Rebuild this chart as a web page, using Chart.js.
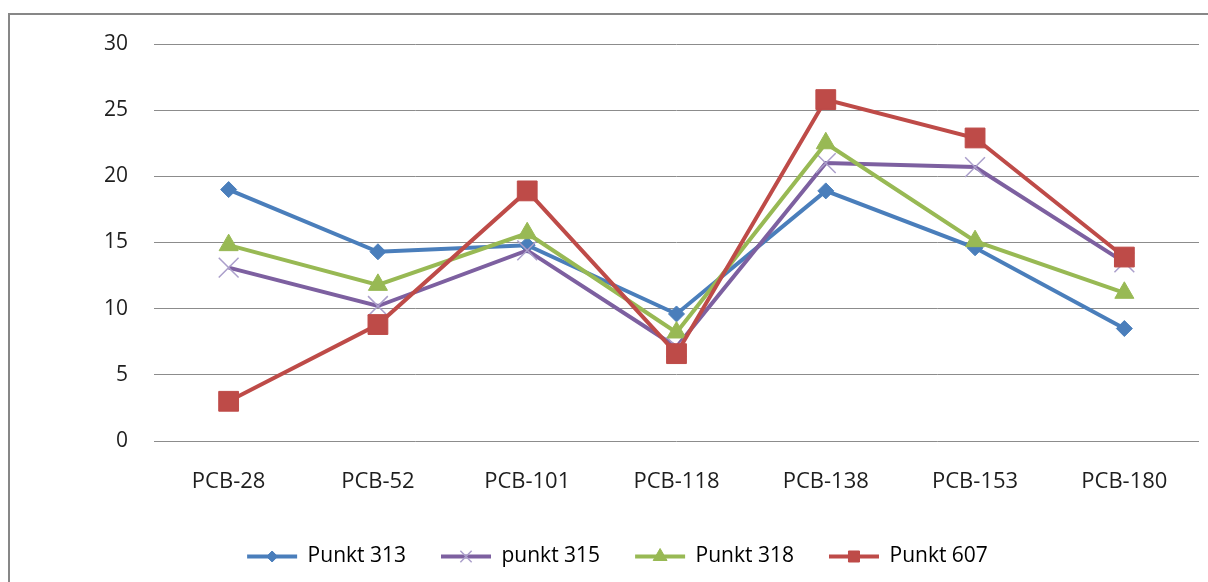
<!DOCTYPE html>
<html>
<head>
<meta charset="utf-8">
<script src="https://cdn.jsdelivr.net/npm/chart.js"></script>
<style>
  html, body { margin: 0; padding: 0; background: #fff; overflow: hidden; }
  #frame { position: absolute; left: 8px; top: 13px; width: 1400px; height: 800px;
           border: 2px solid #878787; box-sizing: border-box; background: #fff; }
  #c { position: absolute; left: 0; top: 0; }
</style>
</head>
<body>
<div id="frame"></div>
<canvas id="c" width="1208" height="582"></canvas>
<script>
// Congener categories and measured values per sampling point
const categories = ['PCB-28', 'PCB-52', 'PCB-101', 'PCB-118', 'PCB-138', 'PCB-153', 'PCB-180'];
const punkt313 = [19.0, 14.3, 14.8, 9.6, 18.9, 14.6, 8.5];
const punkt315 = [13.1, 10.2, 14.4, 7.1, 21.0, 20.7, 13.5];
const punkt318 = [14.8, 11.8, 15.7, 8.2, 22.5, 15.1, 11.2];
const punkt607 = [3.0, 8.8, 18.9, 6.6, 25.8, 22.9, 13.9];
const seriesNames = ['Punkt 313', 'punkt 315', 'Punkt 318', 'Punkt 607'];
const yTicks = [0, 5, 10, 15, 20, 25, 30];

const FONT = '"Open Sans", "Noto Sans", sans-serif';

// Line and marker appearance for each series (legendRadius: marker size in the key)
const looks = [
  { color: '#4a7ebb', marker: 'rectRot',  radius: 8,  legendRadius: 5.5, markerBorder: '#4a7ebb', markerWidth: 1,   order: 3 },
  { color: '#7d60a0', marker: 'crossRot', radius: 14, legendRadius: 8,   markerBorder: '#ab9fcb', markerWidth: 1.5, order: 2 },
  { color: '#98b954', marker: 'triangle', radius: 11, legendRadius: 8,   markerBorder: '#98b954', markerWidth: 1,   order: 1 },
  { color: '#be4b48', marker: 'rect',     radius: 14, legendRadius: 7.8, markerBorder: '#be4b48', markerWidth: 1,   order: 0 }
];

const values = [punkt313, punkt315, punkt318, punkt607];

const datasets = values.map((data, i) => ({
  label: seriesNames[i],
  data: data,
  order: looks[i].order,
  borderColor: looks[i].color,
  backgroundColor: looks[i].color,
  borderWidth: 4,
  tension: 0,
  clip: false,
  pointStyle: looks[i].marker,
  pointRadius: looks[i].radius,
  pointHoverRadius: looks[i].radius,
  pointBackgroundColor: looks[i].color,
  pointBorderColor: looks[i].markerBorder,
  pointBorderWidth: looks[i].markerWidth
}));

// Paints a series marker on top of each legend line sample
const legendMarkers = {
  id: 'legendMarkers',
  afterDraw(chart) {
    const legend = chart.legend;
    if (!legend || !legend.legendHitBoxes) return;
    const ctx = chart.ctx;
    const boxW = legend.options.labels.boxWidth;
    legend.legendItems.forEach((item, idx) => {
      const box = legend.legendHitBoxes[idx];
      const look = looks[item.datasetIndex];
      const cx = box.left + boxW / 2;
      const cy = box.top + legend.options.labels.font.size / 2;
      ctx.save();
      ctx.fillStyle = look.color;
      ctx.strokeStyle = look.markerBorder;
      ctx.lineWidth = look.markerWidth;
      Chart.helpers.drawPoint(ctx, {
        pointStyle: look.marker,
        radius: look.legendRadius,
        rotation: 0,
        borderWidth: look.markerWidth
      }, cx, cy);
      ctx.restore();
    });
  }
};

new Chart(document.getElementById('c'), {
  type: 'line',
  data: { labels: categories, datasets: datasets },
  plugins: [legendMarkers],
  options: {
    responsive: false,
    animation: false,
    devicePixelRatio: 1,
    layout: { autoPadding: false, padding: { left: 36, right: 9, top: 44, bottom: 5 } },
    plugins: {
      title: { display: false },
      tooltip: { enabled: false },
      legend: {
        position: 'bottom',
        maxHeight: 70,
        labels: {
          boxWidth: 50,
          boxHeight: 4,
          padding: 35,
          color: '#1e1e1e',
          font: { family: FONT, size: 21 },
          generateLabels(chart) {
            return chart.data.datasets.map((ds, i) => ({
              text: ds.label,
              fillStyle: ds.borderColor,
              strokeStyle: ds.borderColor,
              lineWidth: 0,
              hidden: false,
              datasetIndex: i
            }));
          }
        }
      }
    },
    scales: {
      x: {
        offset: true,
        grid: { display: false, drawTicks: false },
        border: { display: false },
        ticks: {
          padding: 28,
          color: '#1e1e1e',
          font: { family: FONT, size: 22 },
          maxRotation: 0,
          autoSkip: false
        },
        afterFit(scale) {
          scale.height = 70;
          scale.paddingLeft = 0;
          scale.paddingRight = 0;
        }
      },
      y: {
        min: yTicks[0],
        max: yTicks[yTicks.length - 1],
        afterBuildTicks(scale) { scale.ticks = yTicks.map(v => ({ value: v })); },
        grid: { color: '#8c8c8c', lineWidth: 1, drawTicks: false },
        border: { display: false },
        ticks: {
          padding: 26,
          color: '#1e1e1e',
          font: { family: FONT, size: 21 }
        },
        afterFit(scale) { scale.width = 118; }
      }
    }
  }
});
</script>
</body>
</html>
